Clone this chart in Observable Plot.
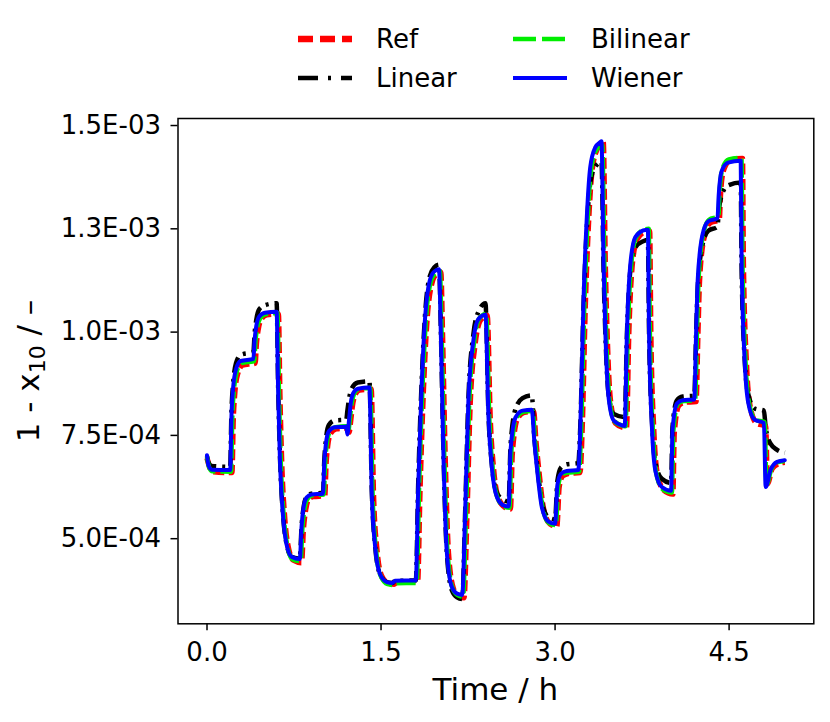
<!DOCTYPE html>
<html><head><meta charset="utf-8">
<script src="https://cdn.jsdelivr.net/npm/d3@7"></script>
<script src="https://cdn.jsdelivr.net/npm/@observablehq/plot@0.6"></script>
<style>
body{margin:0;background:#fff;font-family:"DejaVu Sans",sans-serif;}
#wrap{position:relative;width:830px;}
#legend{position:relative;height:100px;width:830px;}
.item{position:absolute;display:flex;align-items:center;font-size:26px;color:#000;height:36px;white-space:nowrap;}
.item svg{display:block;}
</style></head><body>
<div id="wrap"><div id="legend"></div><div id="chart"></div></div>
<script>
// values: time in h, 1 - x10 in units of 1E-04
const ref = [[0,6.95],[0.027,6.7],[0.055,6.62],[0.215,6.6],
[0.225,7.8],[0.24,8.55],[0.265,9.0],[0.305,9.2],[0.415,9.25],
[0.425,9.7],[0.44,10.05],[0.465,10.3],[0.515,10.42],[0.615,10.44],
[0.628,8.5],[0.643,6.9],[0.671,5.45],[0.7,4.8],[0.745,4.48],[0.815,4.42],
[0.83,5.2],[0.85,5.7],[0.875,5.95],[0.915,6.02],[1.015,6.04],
[1.025,6.75],[1.04,7.25],[1.065,7.55],[1.115,7.66],[1.215,7.68],
[1.225,7.58],[1.24,7.9],[1.255,8.25],[1.275,8.48],[1.315,8.6],[1.415,8.62],
[1.435,6.05],[1.465,4.72],[1.505,4.1],[1.565,3.92],[1.615,3.9],
[1.635,3.95],[1.815,3.96],
[1.835,6.1],[1.865,8.6],[1.895,10.25],[1.935,11.15],[1.975,11.4],[2.015,11.45],
[2.03,9.9],[2.052,7.05],[2.081,4.65],[2.125,3.78],[2.17,3.6],[2.215,3.57],
[2.239,5.45],[2.268,8.25],[2.311,9.72],[2.355,10.28],[2.415,10.4],
[2.441,7.9],[2.47,6.68],[2.515,5.95],[2.575,5.75],[2.615,5.72],
[2.631,7.05],[2.675,7.9],[2.735,8.06],[2.815,8.08],
[2.835,7.35],[2.858,6.7],[2.901,5.72],[2.955,5.36],[3.015,5.3],
[3.035,6.25],[3.065,6.52],[3.115,6.58],[3.215,6.6],
[3.232,7.55],[3.261,10.7],[3.29,12.75],[3.318,13.9],[3.361,14.42],[3.405,14.58],[3.415,14.6],
[3.433,11.6],[3.448,10.0],[3.476,8.38],[3.52,7.8],[3.595,7.69],[3.615,7.68],
[3.635,9.95],[3.664,11.6],[3.707,12.25],[3.775,12.43],[3.815,12.45],
[3.825,10.0],[3.851,7.6],[3.879,6.6],[3.935,6.18],[4.015,6.08],
[4.027,7.55],[4.065,8.22],[4.115,8.3],[4.215,8.32],
[4.23,9.85],[4.245,11.25],[4.285,12.3],[4.335,12.64],[4.415,12.72],
[4.425,13.3],[4.45,13.9],[4.505,14.15],[4.615,14.2],
[4.623,11.65],[4.65,9.2],[4.68,8.22],[4.735,7.8],[4.815,7.72],
[4.83,6.33],[4.872,6.7],[4.929,6.82],[4.98,6.85]];

const linear = [[0,7.0],[0.012,6.85],[0.04,6.76],[0.2,6.74],
[0.21,8.0],[0.225,8.75],[0.25,9.25],[0.29,9.45],[0.4,9.52],
[0.41,9.95],[0.425,10.3],[0.45,10.55],[0.5,10.65],[0.6,10.7],
[0.613,8.7],[0.628,7.05],[0.656,5.55],[0.685,4.88],[0.73,4.56],[0.8,4.52],
[0.815,5.3],[0.835,5.8],[0.86,6.02],[0.9,6.09],[1.0,6.11],
[1.01,6.85],[1.025,7.4],[1.05,7.75],[1.1,7.86],[1.2,7.88],
[1.21,8.1],[1.225,8.4],[1.25,8.65],[1.3,8.78],[1.4,8.81],
[1.42,6.2],[1.45,4.8],[1.49,4.15],[1.55,3.95],[1.6,3.93],
[1.62,3.98],[1.8,3.99],
[1.82,6.3],[1.85,8.8],[1.88,10.45],[1.92,11.35],[1.96,11.57],[2.0,11.63],
[2.015,10.1],[2.037,7.2],[2.066,4.7],[2.11,3.75],[2.155,3.58],[2.2,3.54],
[2.224,5.55],[2.253,8.4],[2.296,9.95],[2.34,10.5],[2.4,10.7],
[2.426,8.0],[2.455,6.8],[2.5,6.1],[2.56,5.93],[2.6,5.9],
[2.616,7.25],[2.66,8.15],[2.72,8.4],[2.8,8.47],
[2.82,7.5],[2.843,6.85],[2.886,5.9],[2.94,5.52],[3.0,5.47],
[3.02,6.4],[3.05,6.72],[3.1,6.8],[3.2,6.83],
[3.217,7.7],[3.246,10.7],[3.275,12.6],[3.303,13.6],[3.346,14.0],[3.4,14.12],
[3.418,11.5],[3.433,10.0],[3.461,8.5],[3.505,8.02],[3.6,7.94],
[3.62,10.0],[3.649,11.5],[3.692,12.05],[3.76,12.2],[3.8,12.23],
[3.81,10.0],[3.836,7.8],[3.864,6.85],[3.92,6.45],[4.0,6.35],
[4.012,7.7],[4.05,8.35],[4.1,8.44],[4.2,8.46],
[4.215,9.9],[4.23,11.1],[4.27,12.1],[4.32,12.45],[4.4,12.55],
[4.41,12.9],[4.435,13.3],[4.49,13.55],[4.6,13.62],
[4.608,11.5],[4.635,9.3],[4.665,8.5],[4.72,8.15],[4.8,8.1],
[4.815,7.7],[4.857,7.3],[4.914,7.15],[4.98,7.08]];

const bilinear = [[0,6.98],[0.019,6.72],[0.047,6.63],[0.207,6.62],
[0.217,7.85],[0.232,8.6],[0.257,9.05],[0.297,9.25],[0.407,9.3],
[0.417,9.75],[0.432,10.1],[0.457,10.33],[0.507,10.44],[0.607,10.46],
[0.62,8.55],[0.635,6.92],[0.663,5.48],[0.692,4.83],[0.737,4.5],[0.807,4.46],
[0.822,5.25],[0.842,5.75],[0.867,5.97],[0.907,6.05],[1.007,6.07],
[1.017,6.78],[1.032,7.28],[1.057,7.58],[1.107,7.7],[1.207,7.72],
[1.217,7.58],[1.232,7.92],[1.247,8.28],[1.267,8.5],[1.307,8.62],[1.407,8.65],
[1.427,6.05],[1.457,4.72],[1.497,4.1],[1.557,3.9],[1.607,3.88],
[1.627,3.92],[1.807,3.93],
[1.827,6.15],[1.857,8.65],[1.887,10.3],[1.927,11.2],[1.967,11.42],[2.007,11.47],
[2.022,9.95],[2.044,7.1],[2.073,4.68],[2.117,3.8],[2.162,3.63],[2.207,3.6],
[2.231,5.5],[2.26,8.3],[2.303,9.78],[2.347,10.33],[2.407,10.44],
[2.433,7.92],[2.462,6.7],[2.507,5.97],[2.567,5.77],[2.607,5.75],
[2.623,7.1],[2.667,7.93],[2.727,8.07],[2.807,8.09],
[2.827,7.38],[2.85,6.71],[2.893,5.74],[2.947,5.38],[3.007,5.33],
[3.027,6.28],[3.057,6.55],[3.107,6.6],[3.207,6.62],
[3.224,7.6],[3.253,10.75],[3.282,12.78],[3.31,13.92],[3.353,14.4],[3.397,14.52],[3.407,14.53],
[3.425,11.6],[3.44,10.0],[3.468,8.4],[3.512,7.84],[3.587,7.73],[3.607,7.72],
[3.627,10.0],[3.656,11.62],[3.699,12.3],[3.767,12.48],[3.807,12.5],
[3.817,10.0],[3.843,7.6],[3.871,6.6],[3.927,6.2],[4.007,6.12],
[4.019,7.6],[4.057,8.26],[4.107,8.33],[4.207,8.35],
[4.222,9.9],[4.237,11.3],[4.277,12.38],[4.327,12.72],[4.407,12.8],
[4.417,13.35],[4.442,13.95],[4.497,14.18],[4.607,14.22],
[4.615,11.7],[4.642,9.25],[4.672,8.28],[4.727,7.88],[4.807,7.82],
[4.822,6.3],[4.864,6.68],[4.921,6.85],[4.98,6.88]];

const wiener = [[0,7.02],[0.012,6.78],[0.04,6.67],[0.2,6.66],
[0.21,7.9],[0.225,8.65],[0.25,9.1],[0.29,9.3],[0.4,9.35],
[0.41,9.8],[0.425,10.15],[0.45,10.38],[0.5,10.47],[0.6,10.49],
[0.613,8.6],[0.628,6.97],[0.656,5.52],[0.685,4.87],[0.73,4.56],[0.8,4.51],
[0.815,5.3],[0.835,5.8],[0.86,6.0],[0.9,6.07],[1.0,6.09],
[1.01,6.8],[1.025,7.3],[1.05,7.6],[1.1,7.7],[1.2,7.71],
[1.21,7.52],[1.225,7.9],[1.24,8.3],[1.26,8.52],[1.3,8.63],[1.4,8.66],
[1.42,6.1],[1.45,4.78],[1.49,4.15],[1.55,3.95],[1.6,3.93],
[1.62,3.98],[1.8,3.99],
[1.82,6.2],[1.85,8.7],[1.88,10.36],[1.92,11.25],[1.96,11.47],[2.0,11.52],
[2.015,10.0],[2.037,7.13],[2.066,4.71],[2.11,3.83],[2.155,3.67],[2.2,3.64],
[2.224,5.52],[2.253,8.34],[2.296,9.8],[2.34,10.32],[2.4,10.42],
[2.426,7.94],[2.455,6.73],[2.5,6.0],[2.56,5.8],[2.6,5.78],
[2.616,7.13],[2.66,7.94],[2.72,8.1],[2.8,8.12],
[2.82,7.4],[2.843,6.73],[2.886,5.76],[2.94,5.42],[3.0,5.36],
[3.02,6.3],[3.05,6.57],[3.1,6.64],[3.2,6.66],
[3.217,7.62],[3.246,10.84],[3.275,12.86],[3.303,13.99],[3.346,14.47],[3.39,14.6],[3.4,14.62],
[3.418,11.65],[3.433,10.04],[3.461,8.42],[3.505,7.86],[3.58,7.74],[3.6,7.73],
[3.62,10.04],[3.649,11.65],[3.692,12.3],[3.76,12.46],[3.8,12.48],
[3.81,10.0],[3.836,7.62],[3.864,6.65],[3.92,6.25],[4.0,6.16],
[4.012,7.62],[4.05,8.27],[4.1,8.35],[4.2,8.37],
[4.215,9.9],[4.23,11.29],[4.27,12.35],[4.32,12.68],[4.4,12.76],
[4.41,13.3],[4.435,13.89],[4.49,14.1],[4.6,14.15],
[4.608,11.7],[4.635,9.26],[4.665,8.29],[4.72,7.88],[4.8,7.8],
[4.815,6.25],[4.857,6.66],[4.914,6.86],[4.98,6.9]];

const seriesNames = ["Ref", "Linear", "Bilinear", "Wiener"];
const yTicks = [5, 7.5, 10, 12.5, 15];
const yTickLabels = ["5.0E-04", "7.5E-04", "1.0E-03", "1.3E-03", "1.5E-03"];
const xTicks = [0, 1.5, 3.0, 4.5];
const xTickLabels = ["0.0", "1.5", "3.0", "4.5"];

const styles = {
  Ref:      {stroke: "#ff0000", strokeWidth: 5.5, dash: "11,4.5", legendDash: "15,7"},
  Linear:   {stroke: "#000000", strokeWidth: 4.5, dash: "16,6,3,6", legendDash: "20,10,3,10"},
  Bilinear: {stroke: "#00ee00", strokeWidth: 4.5, dash: "19,5", legendDash: "23,6"},
  Wiener:   {stroke: "#0000ff", strokeWidth: 4,   dash: null, legendDash: null}
};
const dataBy = {Ref: ref, Linear: linear, Bilinear: bilinear, Wiener: wiener};

const lineMarks = seriesNames.map(n => Plot.line(dataBy[n], {
  x: d => d[0], y: d => d[1],
  stroke: styles[n].stroke, strokeWidth: styles[n].strokeWidth,
  strokeDasharray: styles[n].dash || undefined,
  strokeLinecap: styles[n].dash ? "butt" : "round",
  strokeLinejoin: "round",
  curve: "monotone-x"
}));

const plot = Plot.plot({
  width: 830, height: 622,
  marginLeft: 177.5, marginRight: 16.7, marginTop: 18, marginBottom: 98.7,
  style: {fontFamily: "DejaVu Sans", fontSize: "26px", color: "#000", background: "#fff"},
  x: {domain: [-0.25, 5.23]},
  y: {domain: [2.94, 15.17]},
  marks: [
    ...lineMarks,
    Plot.frame({stroke: "#000", strokeWidth: 1.5}),
    Plot.axisX({ticks: xTicks, tickFormat: d => xTickLabels[xTicks.indexOf(d)], tickSize: 7, tickPadding: 12, strokeWidth: 1.5, label: null, fontSize: 26}),
    Plot.axisY({ticks: yTicks, tickFormat: d => yTickLabels[yTicks.indexOf(d)], tickSize: 7, tickPadding: 10, strokeWidth: 1.5, label: null, fontSize: 26})
  ]
});

const svg = d3.select(plot);
svg.append("text")
  .attr("x", 495.4).attr("y", 600)
  .attr("text-anchor", "middle")
  .attr("font-family", "DejaVu Sans").attr("font-size", 31).attr("fill", "#000")
  .text("Time / h");
const yl = svg.append("text")
  .attr("transform", "translate(39,271) rotate(-90)")
  .attr("text-anchor", "middle")
  .attr("font-family", "DejaVu Sans").attr("font-size", 31).attr("fill", "#000");
yl.append("tspan").text("1 - x");
yl.append("tspan").attr("font-size", 22).attr("dy", 6).text("10");
yl.append("tspan").attr("dy", -6).text(" / –");

document.getElementById("chart").appendChild(plot);

// legend (above the chart)
const legend = d3.select("#legend");
const legendPos = {
  Ref: [298, 38.5], Linear: [298, 78.3], Bilinear: [513, 38.5], Wiener: [513, 78.3]
};
seriesNames.forEach(n => {
  const [lx, ly] = legendPos[n];
  const item = legend.append("div").attr("class", "item")
    .style("left", lx + "px").style("top", (ly - 18) + "px");
  const s = item.append("svg").attr("width", 55).attr("height", 36);
  const ln = s.append("line").attr("x1", 0).attr("x2", 54).attr("y1", 18).attr("y2", 18)
    .attr("stroke", styles[n].stroke).attr("stroke-width", n === "Ref" ? 6.5 : styles[n].strokeWidth)
    .attr("stroke-linecap", "butt");
  if (styles[n].legendDash) ln.attr("stroke-dasharray", styles[n].legendDash);
  item.append("span").style("margin-left", "23px").text(n);
});
</script>
</body></html>
